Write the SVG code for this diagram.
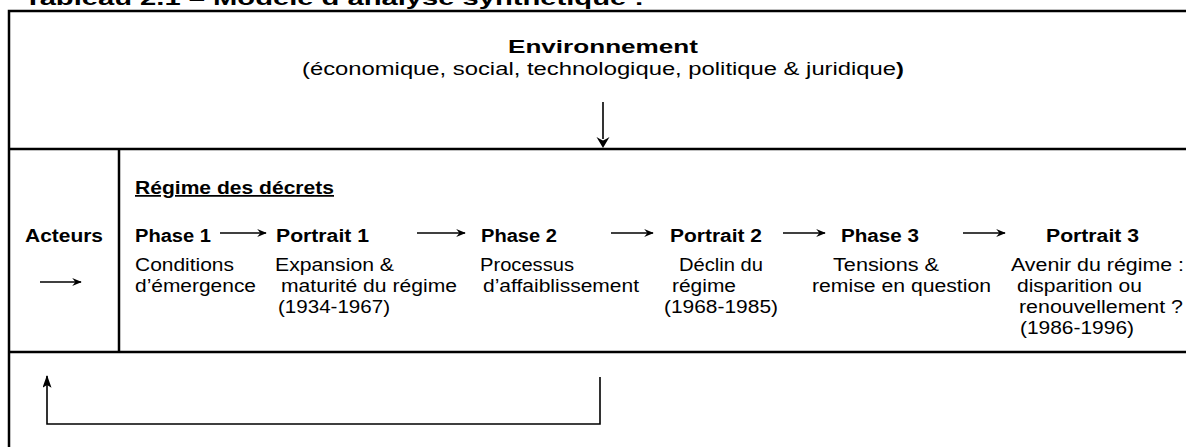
<svg xmlns="http://www.w3.org/2000/svg" width="1186" height="447" viewBox="0 0 1186 447">
<style>
  text { font-family: "Liberation Sans", Arial, sans-serif; fill: #000; }
  .b { font-weight: bold; }
  .t { font-size: 17.5px; }
  .frame { stroke: #000; stroke-width: 2.5; fill: none; }
  .conn { stroke: #000; stroke-width: 1.6; fill: none; }
  .head { fill: #000; stroke: none; }
</style>
<defs>
  <marker id="ah" viewBox="0 0 12 10" refX="11" refY="5" markerWidth="10" markerHeight="8" orient="auto" markerUnits="userSpaceOnUse">
    <path d="M0,0 L12,5 L0,10 L4,5 Z" class="head"/>
  </marker>
  <marker id="ahbig" viewBox="0 0 14 10" refX="13" refY="5" markerWidth="14" markerHeight="9" orient="auto" markerUnits="userSpaceOnUse">
    <path d="M0,0 L14,5 L0,10 L3,5 Z" class="head"/>
  </marker>
</defs>
<rect width="1186" height="447" fill="#fff"/>
<text x="24" y="5" class="b" font-size="20" textLength="620" lengthAdjust="spacingAndGlyphs">Tableau 2.1 – Modèle d’analyse synthétique :</text>
<g id="frame">
  <path class="frame" d="M9,447 V11 H1186"/>
  <path class="frame" d="M8,149 H1186"/>
  <path class="frame" d="M8,352 H1186"/>
  <path class="frame" d="M119,149 V352"/>
</g>
<g id="environnement">
  <text x="508" y="53" class="b" font-size="19" textLength="190" lengthAdjust="spacingAndGlyphs">Environnement</text>
  <text x="302" y="75" font-size="17.5" textLength="602" lengthAdjust="spacingAndGlyphs">(économique, social, technologique, politique &amp; juridique<tspan font-weight="bold">)</tspan></text>
</g>
<g id="acteurs">
  <text x="25" y="242" class="b t" textLength="78" lengthAdjust="spacingAndGlyphs">Acteurs</text>
</g>
<g id="regime">
  <text x="135" y="194" class="b t" text-decoration="underline" textLength="199" lengthAdjust="spacingAndGlyphs">Régime des décrets</text>
</g>
<g id="phase1">
  <text x="135" y="242" class="b t" textLength="76" lengthAdjust="spacingAndGlyphs">Phase 1</text>
  <text x="135" y="271" class="t" textLength="99" lengthAdjust="spacingAndGlyphs">Conditions</text>
  <text x="135" y="292" class="t" textLength="121" lengthAdjust="spacingAndGlyphs">d’émergence</text>
</g>
<g id="portrait1">
  <text x="276" y="242" class="b t" textLength="93" lengthAdjust="spacingAndGlyphs">Portrait 1</text>
  <text x="275" y="271" class="t" textLength="119" lengthAdjust="spacingAndGlyphs">Expansion &amp;</text>
  <text x="281" y="292" class="t" textLength="176" lengthAdjust="spacingAndGlyphs">maturité du régime</text>
  <text x="278" y="313" class="t" textLength="112" lengthAdjust="spacingAndGlyphs">(1934-1967)</text>
</g>
<g id="phase2">
  <text x="481" y="242" class="b t" textLength="76" lengthAdjust="spacingAndGlyphs">Phase 2</text>
  <text x="480" y="271" class="t" textLength="94" lengthAdjust="spacingAndGlyphs">Processus</text>
  <text x="483" y="292" class="t" textLength="156" lengthAdjust="spacingAndGlyphs">d’affaiblissement</text>
</g>
<g id="portrait2">
  <text x="670" y="242" class="b t" textLength="92" lengthAdjust="spacingAndGlyphs">Portrait 2</text>
  <text x="679" y="271" class="t" textLength="84" lengthAdjust="spacingAndGlyphs">Déclin du</text>
  <text x="672" y="292" class="t" textLength="64" lengthAdjust="spacingAndGlyphs">régime</text>
  <text x="664" y="313" class="t" textLength="114" lengthAdjust="spacingAndGlyphs">(1968-1985)</text>
</g>
<g id="phase3">
  <text x="841" y="242" class="b t" textLength="78" lengthAdjust="spacingAndGlyphs">Phase 3</text>
  <text x="833" y="271" class="t" textLength="106" lengthAdjust="spacingAndGlyphs">Tensions &amp;</text>
  <text x="812" y="292" class="t" textLength="179" lengthAdjust="spacingAndGlyphs">remise en question</text>
</g>
<g id="portrait3">
  <text x="1046" y="242" class="b t" textLength="93" lengthAdjust="spacingAndGlyphs">Portrait 3</text>
  <text x="1011" y="271" class="t" textLength="173" lengthAdjust="spacingAndGlyphs">Avenir du régime :</text>
  <text x="1017" y="292" class="t" textLength="125" lengthAdjust="spacingAndGlyphs">disparition ou</text>
  <text x="1019" y="313" class="t" textLength="164" lengthAdjust="spacingAndGlyphs">renouvellement ?</text>
  <text x="1020" y="334" class="t" textLength="114" lengthAdjust="spacingAndGlyphs">(1986-1996)</text>
</g>
<g id="connectors">
  <path class="conn" d="M603,102 V139"/>
  <path class="head" d="M603,148 L596.5,137 Q600.5,139.5 603,140.5 Q605.5,139.5 609.5,137 Z"/>
  <path class="conn" d="M40,282 H81" marker-end="url(#ah)"/>
  <path class="conn" d="M220,233 H266" marker-end="url(#ah)"/>
  <path class="conn" d="M417,233 H465" marker-end="url(#ah)"/>
  <path class="conn" d="M611,233 H653" marker-end="url(#ah)"/>
  <path class="conn" d="M783,233 H825" marker-end="url(#ah)"/>
  <path class="conn" d="M963,233 H1005" marker-end="url(#ah)"/>
  <path class="conn" d="M600,377 V424 H47 V376" marker-end="url(#ahbig)"/>
</g>
</svg>
